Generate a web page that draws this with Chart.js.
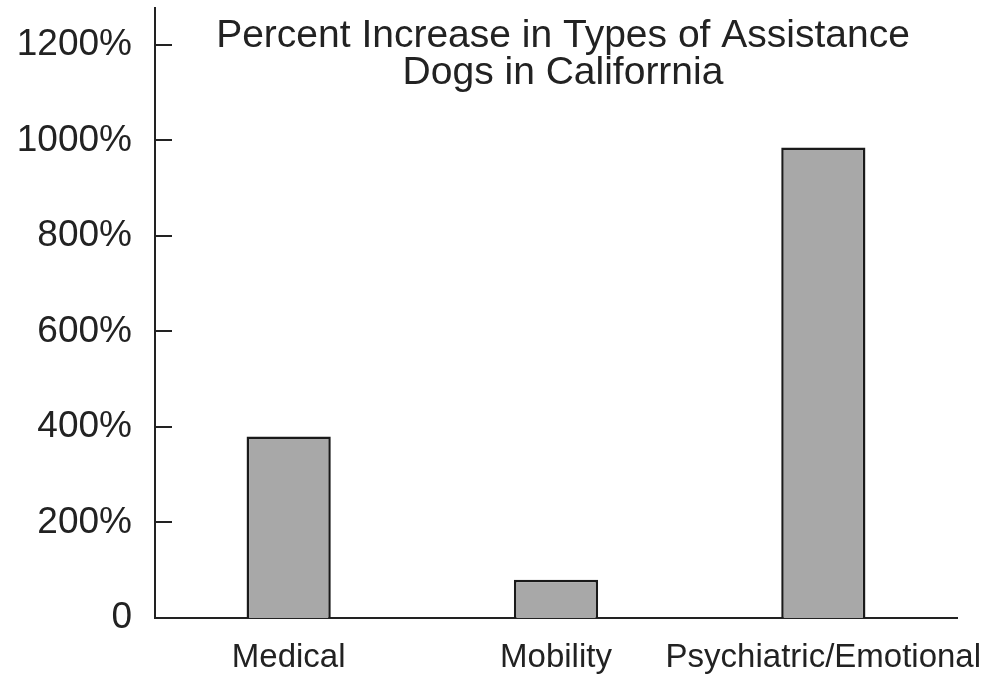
<!DOCTYPE html>
<html>
<head>
<meta charset="utf-8">
<script src="https://cdn.jsdelivr.net/npm/chart.js@4.4.1/dist/chart.umd.min.js"></script>
<style>
  html, body { margin: 0; padding: 0; background: #fff; }
  #chart { display: block; }
</style>
</head>
<body>
<canvas id="chart" width="1006" height="675"></canvas>
<script>
// Datos del gráfico
const categorias = ["Medical", "Mobility", "Psychiatric/Emotional"];
const incrementos = [380, 80, 985];
const tickValores = [0, 200, 400, 600, 800, 1000, 1200];
const tickEtiquetas = ["0", "200%", "400%", "600%", "800%", "1000%", "1200%"];
const titulo = ["Percent Increase in Types of Assistance", "Dogs in Califorrnia"];

const fuente = "'Liberation Sans', Arial, sans-serif";
const tinta = "#222";

// Marcas cortas hacia dentro del eje Y y título dentro del área
const extras = {
  id: "extras",
  afterDraw(chart) {
    const { ctx, chartArea, scales } = chart;
    ctx.save();
    ctx.strokeStyle = tinta;
    ctx.lineWidth = 2;
    scales.y.ticks.forEach((t) => {
      if (t.value === 0) return;
      const y = Math.round(scales.y.getPixelForValue(t.value));
      ctx.beginPath();
      ctx.moveTo(chartArea.left, y);
      ctx.lineTo(chartArea.left + 17, y);
      ctx.stroke();
    });
    ctx.fillStyle = tinta;
    ctx.font = "39px " + fuente;
    ctx.textAlign = "center";
    ctx.textBaseline = "middle";
    const cx = chartArea.left + (chartArea.right - chartArea.left) / 2 + 7;
    ctx.fillText(titulo[0], cx, 36);
    ctx.fillText(titulo[1], cx, 73);
    ctx.restore();
  },
};

new Chart(document.getElementById("chart"), {
  type: "bar",
  data: {
    labels: categorias,
    datasets: [
      {
        data: incrementos,
        backgroundColor: "#a8a8a8",
        borderColor: "#1a1a1a",
        borderWidth: 2.5,
        borderSkipped: "bottom",
        categoryPercentage: 1,
        barPercentage: 0.315,
      },
    ],
  },
  options: {
    responsive: false,
    animation: false,
    layout: { padding: { top: 8, right: 49, left: 0, bottom: 0 } },
    plugins: {
      legend: { display: false },
      tooltip: { enabled: false },
    },
    scales: {
      x: {
        grid: { display: false, drawTicks: false },
        border: { display: true, color: tinta, width: 2 },
        ticks: {
          color: tinta,
          padding: 20,
          autoSkip: false,
          maxRotation: 0,
          font: { family: fuente, size: 33 },
        },
        afterFit: (s) => { s.height = 57; s.paddingLeft = 0; s.paddingRight = 0; },
      },
      y: {
        min: 0,
        max: 1277,
        grid: { display: false, drawTicks: false },
        border: { display: true, color: tinta, width: 2 },
        afterBuildTicks: (s) => { s.ticks = tickValores.map((v) => ({ value: v })); },
        ticks: {
          color: tinta,
          padding: 23,
          font: { family: fuente, size: 37 },
          callback: (v) => tickEtiquetas[tickValores.indexOf(v)],
        },
        afterFit: (s) => { s.width = 155; s.paddingTop = 0; },
      },
    },
  },
  plugins: [extras],
});
</script>
</body>
</html>
